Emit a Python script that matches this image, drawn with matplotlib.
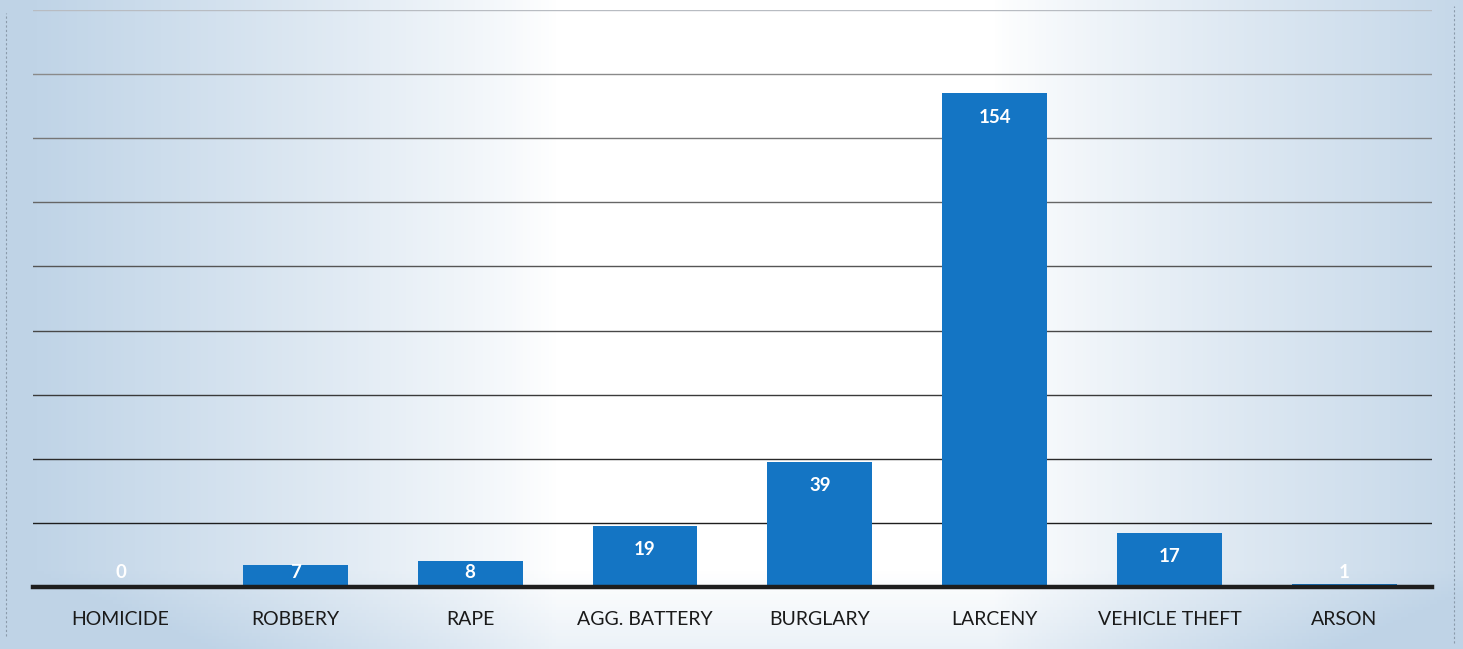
import matplotlib.pyplot as plt
import numpy as np

categories = ['HOMICIDE', 'ROBBERY', 'RAPE', 'AGG. BATTERY', 'BURGLARY',
              'LARCENY', 'VEHICLE THEFT', 'ARSON']
counts = [0, 7, 8, 19, 39, 154, 17, 1]

gridlines = [20, 40, 60, 80, 100, 120, 140, 160, 180]
grid_colors = ['#1e1e1e', '#2a2a2a', '#3a3a3a', '#484848', '#555555',
               '#666666', '#777777', '#8a8a8a', '#b8bcc2']

plt.rcParams['font.family'] = ['Lato', 'DejaVu Sans']

fig = plt.figure(figsize=(14.63, 6.49), dpi=100)

# Paper background: bluish toward the edges, white in the middle
bg = fig.add_axes([0, 0, 1, 1], zorder=0)
xs = np.linspace(0, 1, 400)
ys = np.linspace(0, 1, 200)
X, Y = np.meshgrid(xs, ys)
d = np.clip((np.abs(X - 0.53) - 0.15) / 0.36, 0, 1) ** 0.85
d = np.clip(d + 0.3 * np.clip((0.12 - Y) / 0.12, 0, 1), 0, 1)
white = np.array([1.0, 1.0, 1.0])
blue = np.array([0.75, 0.83, 0.905])
img = white[None, None, :] * (1 - d[..., None]) + blue[None, None, :] * d[..., None]
bg.imshow(img, extent=[0, 1, 0, 1], aspect='auto', origin='lower')
bg.plot([0.004, 0.004], [0.02, 0.98], color='#8a9aaa', lw=0.8, ls=(0, (2, 2)))
bg.plot([0.994, 0.994], [0.01, 0.99], color='#8a9aaa', lw=0.8, ls=(0, (2, 2)))
bg.set_xlim(0, 1)
bg.set_ylim(0, 1)
bg.axis('off')

ax = fig.add_axes([0.0226, 0.0955, 0.956, 0.889], zorder=1)
ax.patch.set_alpha(0)

x = np.arange(len(categories))
bars = ax.bar(x, counts, width=0.6, color='#1475c4', zorder=3)

ax.set_xlim(-0.5, len(categories) - 0.5)
ax.set_ylim(0, 180)
for g, c in zip(gridlines, grid_colors):
    ax.axhline(g, color=c, lw=1.0, zorder=1)
ax.set_yticks([])
ax.tick_params(axis='x', bottom=False, labelsize=14, pad=14, colors='#1a1a1a')
ax.set_xticks(x)
ax.set_xticklabels(categories)

for side in ['top', 'right', 'left']:
    ax.spines[side].set_visible(False)
ax.spines['bottom'].set_color('#1e1e1e')
ax.spines['bottom'].set_linewidth(3.2)
ax.spines['bottom'].set_zorder(4)

# value labels inside the top of each bar
for bar, v in zip(bars, counts):
    ax.annotate(str(v), (bar.get_x() + bar.get_width() / 2, max(v, 12)),
                xytext=(0, -11), textcoords='offset points',
                ha='center', va='top', color='white',
                fontsize=13.5, fontweight='bold', zorder=5)

fig.savefig('out.png', dpi=100)
